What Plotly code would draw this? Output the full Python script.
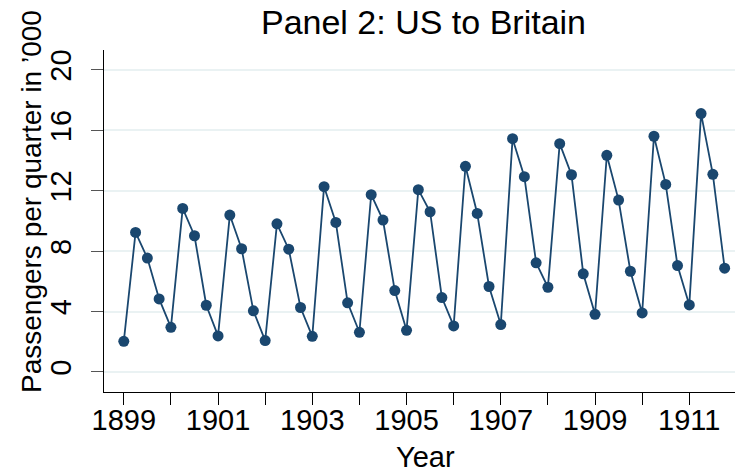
import plotly.graph_objects as go

# Quarterly passengers, US to Britain ('000)
years = list(range(1899, 1912))
quarters = [0.0, 0.25, 0.5, 0.75]
time = [y + q for y in years for q in quarters]

passengers = [
    2.03, 9.24, 7.54, 4.84,
    2.96, 10.83, 9.02, 4.42,
    2.39, 10.39, 8.16, 4.05,
    2.08, 9.81, 8.13, 4.27,
    2.36, 12.27, 9.90, 4.58,
    2.63, 11.74, 10.06, 5.39,
    2.76, 12.07, 10.61, 4.93,
    3.05, 13.62, 10.50, 5.66,
    3.14, 15.45, 12.93, 7.23,
    5.61, 15.12, 13.06, 6.50,
    3.82, 14.35, 11.38, 6.67,
    3.91, 15.61, 12.42, 7.05,
    4.44, 17.11, 13.09, 6.87,
]

x_tick_vals = [1899, 1901, 1903, 1905, 1907, 1909, 1911]
x_tick_text = ["1899", "1901", "1903", "1905", "1907", "1909", "1911"]
y_tick_vals = [0, 4, 8, 12, 16, 20]
y_tick_text = ["0", "4", "8", "12", "16", "20"]

title_text = "Panel 2: US to Britain"
x_title = "Year"
y_title = "Passengers per quarter in \u2019000"

navy = "#1a476f"
font_family = "Liberation Sans, Arial, Helvetica, sans-serif"

fig = go.Figure()
fig.add_trace(go.Scatter(
    x=time, y=passengers, mode="lines+markers",
    line=dict(color=navy, width=1.8),
    marker=dict(color=navy, size=11),
    showlegend=False, hoverinfo="x+y",
))

fig.update_layout(
    width=735, height=474,
    margin=dict(l=104, r=0, t=50, b=82, autoexpand=False),
    paper_bgcolor="white", plot_bgcolor="white",
    font=dict(family=font_family, color="black"),
    title=dict(text=title_text, x=(423.5 - 104) / 631, xref="paper", xanchor="center",
               y=1 - 22.5 / 474, yref="container", yanchor="middle",
               font=dict(size=34, color="black")),
    xaxis=dict(
        range=[1898.58, 1911.97],
        tickvals=x_tick_vals, ticktext=x_tick_text,
        ticks="outside", ticklen=12, tickwidth=1.2, tickcolor="black",
        minor=dict(dtick=1, tick0=1899, ticks="outside", ticklen=12,
                   tickwidth=1.2, tickcolor="black", showgrid=False),
        showline=True, linecolor="black", linewidth=1.2,
        showgrid=False, zeroline=False,
        tickfont=dict(size=29, color="black"),
        ticklabelstandoff=-10,
        automargin=False,
    ),
    yaxis=dict(
        range=[-1.325, 21.32],
        tickvals=y_tick_vals, ticktext=y_tick_text,
        tickangle=-90,
        ticks="outside", ticklen=12, tickwidth=1.2, tickcolor="#555555",
        ticklabelstandoff=8,
        showline=True, linecolor="black", linewidth=1.2,
        showgrid=True, gridcolor="#eaf2f3", gridwidth=1.5,
        zeroline=False,
        tickfont=dict(size=29, color="black"),
        automargin=False,
    ),
    annotations=[
        dict(text=x_title, xref="paper", yref="paper",
             x=(425 - 104) / 631, y=(392 - 457) / 342,
             xanchor="center", yanchor="middle", showarrow=False,
             font=dict(size=29, color="black")),
        dict(text=y_title, xref="paper", yref="paper",
             x=(31 - 104) / 631, y=(392 - 202) / 342,
             xanchor="center", yanchor="middle", textangle=-90,
             showarrow=False, font=dict(size=28, color="black")),
    ],
)

fig.write_html("out.html",
               config={"displayModeBar": False},
               post_script="document.body.style.margin='0';document.body.style.overflow='hidden';")
